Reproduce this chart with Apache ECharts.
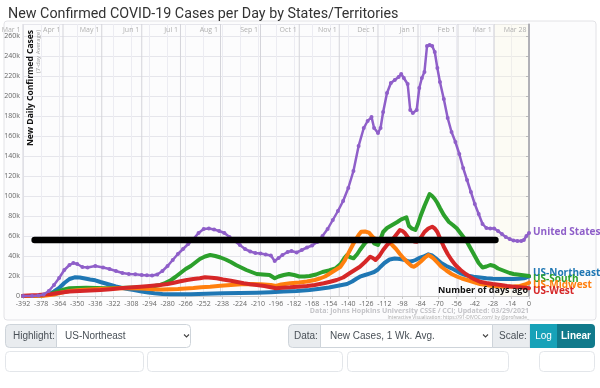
<!DOCTYPE html>
<html><head><meta charset="utf-8">
<script src="https://cdn.jsdelivr.net/npm/echarts@6.0.0/dist/echarts.min.js"></script>
<style>html,body{margin:0;padding:0;background:#fff}#c{width:600px;height:388px}</style>
</head><body><div id="c"></div>
<script>
// ---- data (values in thousands of cases, x = days ago) ----
const monthDays = [-392,-361,-331,-300,-270,-239,-208,-178,-147,-117,-86,-55,-27,0];
const monthLabels = ['Mar 1','Apr 1','May 1','Jun 1','Jul 1','Aug 1','Sep 1','Oct 1','Nov 1','Dec 1','Jan 1','Feb 1','Mar 1','Mar 28'];
const seriesNames = ['United States','US-Northeast','US-South','US-Midwest','US-West'];

const usData = [[-392,0.03],[-385,0.1],[-380,0.5],[-376,1.5],[-372,5],[-368,11],[-364,18],[-360,26],[-356,31],[-353,33],[-350,32],[-346,29],[-342,28.5],[-336,30],[-330,28.5],[-325,27],[-320,25],[-315,23],[-310,22],[-305,21.7],[-300,21],[-296,20.7],[-292,20.5],[-288,21.5],[-284,25],[-280,30],[-276,36],[-272,42],[-268,47],[-264,52],[-260,57],[-256,63],[-252,67],[-248,67.5],[-244,66.5],[-240,65],[-236,63],[-232,59],[-228,55],[-224,51],[-220,47],[-216,44.5],[-212,43],[-208,42.5],[-204,41.5],[-200,40.5],[-197,35],[-194,38],[-191,41],[-187,44],[-184,45],[-180,43.5],[-176,46],[-172,48.5],[-168,50.5],[-164,54],[-160,60],[-156,67],[-152,76],[-148,85],[-144,95],[-140,108],[-136,125],[-132,150],[-128,168],[-125,175],[-122,179],[-120,168],[-117,163],[-115,168],[-113,184],[-110,203],[-107,213],[-104,216],[-101,219],[-99,222],[-97,218],[-94,212],[-92,186],[-90,183],[-87,186],[-85,208],[-83,218],[-81,224],[-79,250],[-77,251],[-75,250],[-73,244],[-71,228],[-69,214],[-66,197],[-63,178],[-60,164],[-57,154],[-54,142],[-51,128],[-48,116],[-45,104],[-42,92],[-39,82],[-36,72],[-33,68],[-30,67.5],[-27,67.5],[-24,65],[-21,62],[-18,59],[-15,57],[-12,55.5],[-9,55],[-6,55],[-4,56],[-2,60],[0,63]];

const northeastData = [[-392,0],[-378,0.3],[-372,2],[-368,4.5],[-364,8],[-360,13],[-356,17],[-352,18.7],[-348,18.5],[-344,17.5],[-340,16.5],[-336,15.7],[-332,14],[-328,12.5],[-324,11],[-320,9.5],[-316,8.2],[-312,7.2],[-306,6],[-300,4.5],[-295,3.5],[-290,2.7],[-284,2],[-278,1.7],[-270,1.7],[-262,1.8],[-250,2.2],[-237,2.7],[-224,3],[-211,3.3],[-200,3.8],[-190,4.5],[-180,5],[-170,6],[-162,7.2],[-155,8.5],[-150,9.8],[-145,11],[-141,12],[-137,14.5],[-134,17],[-131,19.3],[-127,21],[-123,22.7],[-120,24],[-117,26.5],[-115,29.3],[-112,33],[-108,36.5],[-104,37.5],[-100,37],[-96,36],[-93,34.3],[-90,35],[-88,36],[-85,38],[-82,39.3],[-78,41.7],[-75,40.5],[-72,37.5],[-68,33],[-64,30],[-60,27.7],[-56,25],[-53,22.7],[-48,20.5],[-43,19.3],[-38,18.5],[-33,17.7],[-28,17.3],[-22,17],[-16,17],[-12,17],[-8,17.2],[-4,17.7],[-2,18.5],[0,19.5]];

const southData = [[-392,0],[-380,0.2],[-372,1.5],[-366,4],[-360,6.5],[-356,7.7],[-350,8],[-343,8.3],[-335,8],[-328,7.7],[-320,8],[-312,8.3],[-304,8.5],[-297,8.7],[-290,10],[-286,11],[-282,13],[-278,15.3],[-274,19],[-270,23],[-266,27],[-262,30],[-258,34],[-255,37],[-251,39.5],[-247,41],[-243,40],[-239,38.5],[-235,36.5],[-231,34],[-227,31],[-223,28.5],[-219,26],[-215,24],[-211,22],[-206,21.5],[-201,21],[-197,17.7],[-194,19.5],[-190,21],[-186,22],[-182,21],[-178,19.5],[-174,19.5],[-170,20],[-165,21.5],[-160,24],[-155,25.5],[-150,27.5],[-146,32],[-143,38],[-141,41],[-139,39],[-136,37.7],[-133,42],[-131,46],[-127,53],[-124,57],[-122,58],[-120,52.7],[-117,51],[-115,57],[-113,64],[-110,68],[-106,71],[-102,74],[-99,76.7],[-95,78.7],[-93,70],[-91,67.7],[-88,66],[-86,72],[-84,80],[-81,90],[-79,96],[-77,102],[-75,100],[-73,97],[-71,93],[-69,88],[-66,81],[-62,74],[-59,71],[-56,67.7],[-52,61],[-48,54],[-45,47],[-42,40],[-39,33],[-36,28.5],[-33,29.5],[-30,31],[-27,30],[-24,27.5],[-21,26],[-18,24.5],[-15,23],[-12,22],[-9,21.5],[-6,21],[-3,20.5],[0,20]];

const midwestData = [[-392,0],[-376,0.2],[-368,1.5],[-362,3.5],[-356,5],[-350,5.8],[-344,6.3],[-337,6.7],[-328,7.2],[-317,7.7],[-308,7.8],[-300,7.5],[-291,6.7],[-284,6.5],[-278,6.7],[-272,7],[-266,7.5],[-260,8],[-254,8.8],[-247,9.3],[-239,10.2],[-231,11],[-223,11.7],[-216,12],[-208,11.7],[-200,11],[-196,10],[-192,11.5],[-185,12.7],[-178,13.5],[-172,14.5],[-166,16],[-162,17.5],[-158,19.5],[-154,22.7],[-150,26],[-146,29.3],[-143,35],[-140,42.7],[-137,50],[-134.5,56],[-132,61],[-130,64.3],[-127,64.5],[-124,63.3],[-121,59],[-118,56],[-115,55],[-112,55.5],[-109,54],[-106,51],[-103,47],[-100,42],[-97,37.5],[-94,33.5],[-91,30],[-89,29.3],[-87,31],[-84,34.3],[-81,38],[-78,41],[-76,39.5],[-74,37.7],[-71,33.5],[-68,29.3],[-64,25.5],[-60,22],[-56,19.5],[-52,17.5],[-48,16],[-43,14],[-38,12],[-33,11],[-28,10],[-22,9.6],[-17,9.3],[-12,9.5],[-7,10],[-3,11.5],[0,13.3]];

const westData = [[-392,0.3],[-380,1],[-370,2],[-362,3.5],[-356,4.5],[-348,5],[-340,5.5],[-332,6],[-324,6.8],[-317,7.7],[-309,8.5],[-301,9.3],[-294,10],[-286,11],[-280,12],[-275,13.3],[-270,14.7],[-265,16],[-260,17],[-255,17.7],[-251,18.7],[-246,18.3],[-242,17.7],[-237,16.5],[-231,15.3],[-226,14],[-221,12.7],[-216,11.7],[-211,11],[-205,10],[-200,8.8],[-196,7.7],[-191,8.3],[-185,8.7],[-179,9.3],[-172,10],[-166,11],[-159,12.7],[-154,14.3],[-149,16],[-144,18.5],[-139,22.7],[-135,26],[-131,29.3],[-127,34],[-123,39.3],[-121,38],[-119,36],[-116,40],[-113,46],[-110,51],[-106,56],[-103,61],[-100,66],[-98,65],[-96,62.7],[-94,59],[-92,56],[-89,54.5],[-87,54.3],[-84,58],[-81,64],[-78,67.5],[-75,69.3],[-73,67.5],[-71,64],[-69,58],[-66,49.3],[-63,42],[-60,36],[-57,31],[-53,26],[-49,22],[-46,19.3],[-42,16.5],[-38,14.3],[-33,13],[-28,12],[-22,11],[-17,10],[-12,9.3],[-7,8.7],[-3,8.2],[0,7.7]];

// black annotation bar: [start day, end day] at a level (thousands)
const barDays = [-383, -26];
const barLevel = [56, 56];

const colors = {us:'#8f5fc9', ne:'#1f77b4', south:'#2ca02c', mw:'#ff7f0e', west:'#d62728'};
const FONT = '"Open Sans", "Noto Sans", sans-serif';
const UIFONT = '"Liberation Sans", Arial, sans-serif';

const chart = echarts.init(document.getElementById('c'), null, {renderer:'canvas'});
const Y_MAX = 272;

function regional(name, data, color, dy, z) {
  return {
    name, type:'line', data, z,
    showSymbol:false, symbol:'none', smooth:false,
    lineStyle:{color, width:4, cap:'round', join:'round'},
    itemStyle:{color},
    emphasis:{disabled:true},
    endLabel:{show:true, formatter:'{a}', color, fontWeight:'bold', fontSize:10, fontFamily:FONT, distance:4, offset:[0,dy]},
    animation:false
  };
}

const option = {
  animation:false,
  title:{text:'New Confirmed COVID-19 Cases per Day by States/Territories', left:3, top:2,
    textStyle:{fontSize:14.3, fontWeight:'normal', color:'#333', fontFamily:'Roboto, "Liberation Sans", Arial, sans-serif'}},
  grid:{left:23, right:71, top:24, bottom:92, containLabel:false},
  xAxis:{type:'value', min:-392, max:0, interval:14,
    axisLine:{show:true, onZero:false, lineStyle:{color:'#ccc'}},
    axisTick:{show:true, length:3, lineStyle:{color:'#ccc'}},
    axisLabel:{fontSize:7, color:'#666', margin:4, fontFamily:FONT},
    splitLine:{show:true, lineStyle:{color:'#ececf2', width:1}}},
  yAxis:{type:'value', min:0, max:Y_MAX, interval:20,
    axisLine:{show:true, lineStyle:{color:'#bbb', width:1.5}},
    axisTick:{show:true, length:3, lineStyle:{color:'#bbb'}},
    axisLabel:{fontSize:7, color:'#666', margin:3, fontFamily:FONT, showMaxLabel:false,
      formatter:v=>v===0?'0':v+'k'},
    splitLine:{show:true, lineStyle:{color:'#e6e6ec'}}},
  series:[
    { // latest-month shading
      type:'custom', z:0, silent:true, clip:false,
      data:[[monthDays[12], monthDays[13]]],
      renderItem:(p, api)=>{
        const a = api.coord([api.value(0), Y_MAX]);
        const b = api.coord([api.value(1), 0]);
        return {type:'rect', shape:{x:a[0], y:a[1], width:b[0]-a[0], height:b[1]-a[1]}, style:{fill:'rgba(255,250,205,0.18)'}};
      }
    },
    { // month lines and labels
      type:'custom', z:1, silent:true, clip:false,
      data:monthDays.map(d=>[d,0]),
      renderItem:(p, api)=>{
        const d = api.value(0);
        const top = api.coord([d, Y_MAX]);
        const bot = api.coord([d, 0]);
        const last = p.dataIndex === monthDays.length-1;
        return {type:'group', children:[
          {type:'line', shape:{x1:top[0], y1:top[1], x2:bot[0], y2:bot[1]},
            style:{stroke: last ? '#a8a8b0' : '#d4d4da', lineWidth: last ? 1.5 : 1}},
          {type:'text', x:top[0]-2.5, y:top[1]+6,
            style:{text:monthLabels[p.dataIndex], align:'right', verticalAlign:'middle', fill:'#b0b0b0', font:'7px '+FONT}}
        ]};
      }
    },
    regional('US-Northeast', northeastData, colors.ne, -3, 3),
    regional('US-South', southData, colors.south, 3, 4),
    regional('US-Midwest', midwestData, colors.mw, 2, 5),
    regional('US-West', westData, colors.west, 2.5, 6),
    {
      name:'United States', type:'line', data:usData, z:7,
      showSymbol:true, showAllSymbol:true, symbol:'circle', symbolSize:4,
      lineStyle:{color:colors.us, width:2.5},
      itemStyle:{color:colors.us},
      emphasis:{disabled:true},
      endLabel:{show:true, formatter:'{a}', color:colors.us, fontWeight:'bold', fontSize:10, fontFamily:FONT, distance:4, offset:[0,-1]}
    },
    {
      name:'bar', type:'line', z:9, silent:true,
      data:barDays.map((d,i)=>[d, barLevel[i]]),
      showSymbol:false, symbol:'none',
      lineStyle:{color:'#000', width:6.5, cap:'round'}
    }
  ],
  graphic:[
    {type:'rect', z:-10, silent:true, shape:{x:4, y:21, width:592, height:299, r:3},
      style:{fill:'#fcfcfd', stroke:'#e2e2e6', lineWidth:1}},
    {type:'text', z:50, x:31, y:30, rotation:Math.PI/2,
      style:{text:'New Daily Confirmed Cases', align:'right', verticalAlign:'middle', fill:'#111', font:'bold 8.5px '+FONT}},
    {type:'text', z:50, x:38.5, y:30, rotation:Math.PI/2,
      style:{text:'(7-day Average)', align:'right', verticalAlign:'middle', fill:'#999', font:'6px '+FONT}},
    {type:'text', z:50, x:528, y:290.5,
      style:{text:'Number of days ago', align:'right', verticalAlign:'middle', fill:'#111', font:'bold 9px '+FONT}},
    {type:'text', z:50, x:529, y:311,
      style:{text:'Data: Johns Hopkins University CSSE / CCI; Updated: 03/29/2021', align:'right', verticalAlign:'middle', fill:'#c4c4c8', font:'bold 7px '+FONT}},
    {type:'text', z:50, x:529, y:317.5,
      style:{text:'Interactive Visualization: https://91-DIVOC.com/ by @profwade_', align:'right', verticalAlign:'middle', fill:'#aaa', font:'4.8px '+FONT}},
    // controls row
    {type:'rect', shape:{x:5.5, y:324.5, width:51, height:23, r:[4,0,0,4]}, style:{fill:'#e9ecef', stroke:'#ced4da'}},
    {type:'text', x:13, y:336, style:{text:'Highlight:', verticalAlign:'middle', fill:'#495057', font:'10px '+UIFONT}},
    {type:'rect', shape:{x:56.5, y:324.5, width:134, height:23, r:[0,4,4,0]}, style:{fill:'#fff', stroke:'#ced4da'}},
    {type:'text', x:65, y:336, style:{text:'US-Northeast', verticalAlign:'middle', fill:'#495057', font:'10px '+UIFONT}},
    {type:'polyline', shape:{points:[[184,334.5],[186.5,337],[189,334.5]]}, style:{stroke:'#444', lineWidth:1.1, fill:null}},
    {type:'rect', shape:{x:288.5, y:324.5, width:32, height:23, r:[4,0,0,4]}, style:{fill:'#e9ecef', stroke:'#ced4da'}},
    {type:'text', x:294, y:336, style:{text:'Data:', verticalAlign:'middle', fill:'#495057', font:'10px '+UIFONT}},
    {type:'rect', shape:{x:320.5, y:324.5, width:172, height:23}, style:{fill:'#fff', stroke:'#ced4da'}},
    {type:'text', x:330, y:336, style:{text:'New Cases, 1 Wk. Avg.', verticalAlign:'middle', fill:'#495057', font:'10px '+UIFONT}},
    {type:'polyline', shape:{points:[[483,334.5],[485.5,337],[488,334.5]]}, style:{stroke:'#444', lineWidth:1.1, fill:null}},
    {type:'rect', shape:{x:492.5, y:324.5, width:37.5, height:23}, style:{fill:'#e9ecef', stroke:'#ced4da'}},
    {type:'text', x:499, y:336, style:{text:'Scale:', verticalAlign:'middle', fill:'#495057', font:'10px '+UIFONT}},
    {type:'rect', shape:{x:530, y:324, width:27, height:24}, style:{fill:'#17a2b8'}},
    {type:'text', x:543.5, y:336, style:{text:'Log', align:'center', verticalAlign:'middle', fill:'#fff', font:'10px '+UIFONT}},
    {type:'rect', shape:{x:557, y:324, width:38, height:24, r:[0,4,4,0]}, style:{fill:'#117a8b'}},
    {type:'text', x:576, y:336, style:{text:'Linear', align:'center', verticalAlign:'middle', fill:'#fff', font:'bold 10px '+UIFONT}},
    // partially visible second row
    {type:'rect', shape:{x:5.5, y:351.5, width:138, height:20, r:4}, style:{fill:'#fff', stroke:'#e3e6ea'}},
    {type:'rect', shape:{x:147.5, y:351.5, width:195, height:20, r:4}, style:{fill:'#fff', stroke:'#e3e6ea'}},
    {type:'rect', shape:{x:347.5, y:351.5, width:161, height:20, r:4}, style:{fill:'#fff', stroke:'#e3e6ea'}},
    {type:'rect', shape:{x:539.5, y:351.5, width:55, height:20, r:4}, style:{fill:'#fff', stroke:'#e3e6ea'}}
  ]
};
chart.setOption(option);
</script>
</body></html>
